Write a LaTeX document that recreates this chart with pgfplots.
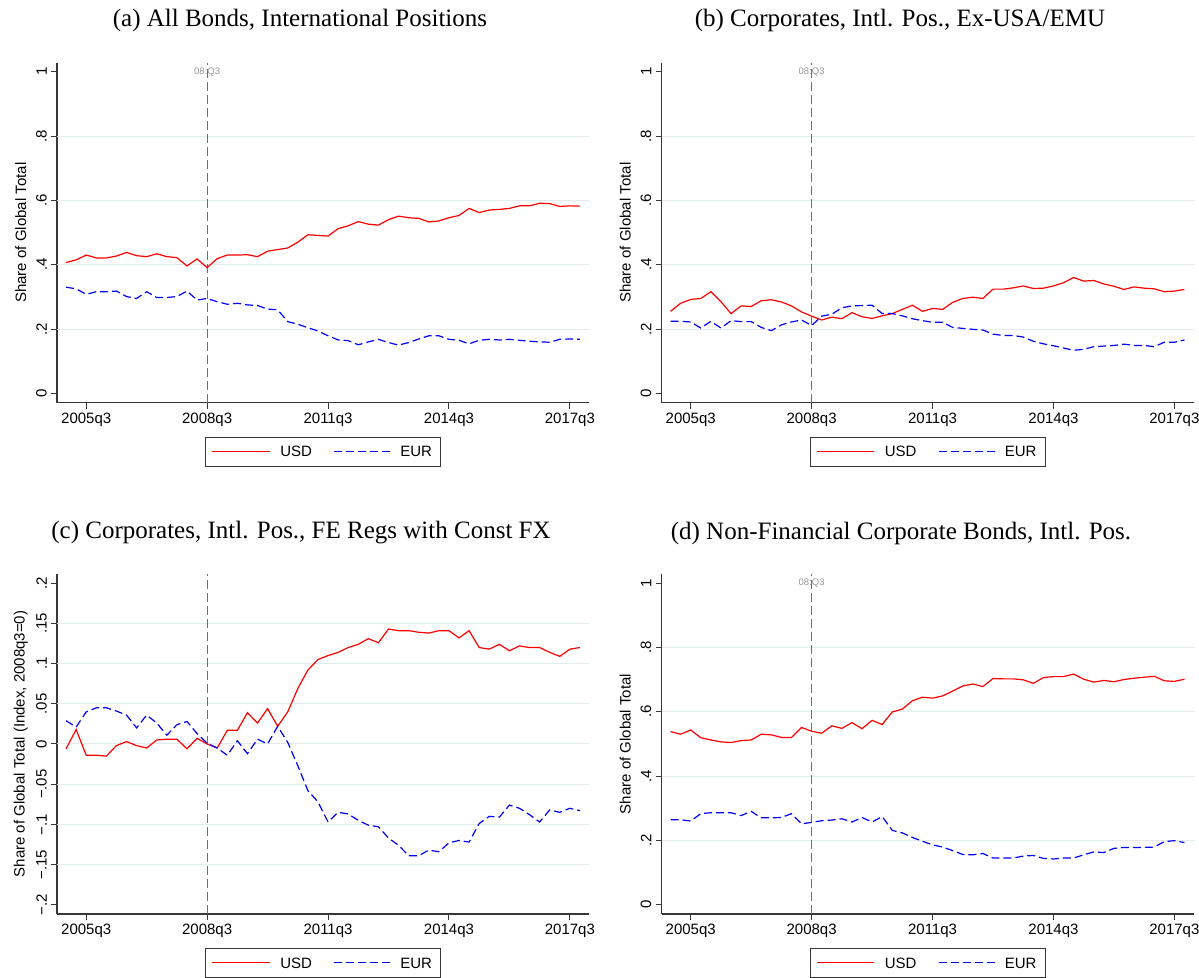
\documentclass[border=0pt]{standalone}
\usepackage{fontspec}
\setmainfont{Liberation Serif}
\setsansfont{Liberation Sans}
\usepackage{pgfplots}
\usepackage{pgfplotstable}
\pgfplotsset{compat=1.18}
\definecolor{gridc}{RGB}{226,235,238}
\definecolor{axc}{RGB}{55,55,55}
\definecolor{vline}{RGB}{110,110,110}
\definecolor{lblc}{RGB}{150,150,150}
\definecolor{usdc}{RGB}{255,0,0}
\definecolor{eurc}{RGB}{0,0,255}

\pgfplotstableread{
x usd eur
-2 0.407 0.330
-1 0.415 0.325
0 0.430 0.308
1 0.421 0.316
2 0.421 0.316
3 0.427 0.318
4 0.438 0.301
5 0.428 0.295
6 0.425 0.316
7 0.434 0.298
8 0.425 0.298
9 0.422 0.301
10 0.396 0.318
11 0.418 0.290
12 0.391 0.295
13 0.419 0.285
14 0.430 0.277
15 0.430 0.280
16 0.431 0.275
17 0.425 0.273
18 0.442 0.262
19 0.447 0.260
20 0.452 0.223
21 0.470 0.215
22 0.493 0.204
23 0.491 0.194
24 0.489 0.179
25 0.512 0.166
26 0.521 0.164
27 0.534 0.151
28 0.526 0.160
29 0.523 0.168
30 0.540 0.158
31 0.551 0.150
32 0.546 0.158
33 0.544 0.169
34 0.533 0.179
35 0.536 0.179
36 0.546 0.168
37 0.553 0.165
38 0.575 0.154
39 0.562 0.165
40 0.570 0.168
41 0.572 0.166
42 0.575 0.168
43 0.583 0.165
44 0.583 0.162
45 0.591 0.160
46 0.590 0.159
47 0.581 0.168
48 0.583 0.169
49 0.582 0.168
}\dataA

\pgfplotstableread{
x usd eur
-2 0.255 0.224
-1 0.280 0.224
0 0.292 0.222
1 0.295 0.203
2 0.316 0.224
3 0.285 0.203
4 0.248 0.226
5 0.272 0.223
6 0.270 0.223
7 0.288 0.205
8 0.291 0.195
9 0.284 0.213
10 0.272 0.222
11 0.253 0.228
12 0.240 0.211
13 0.228 0.240
14 0.237 0.246
15 0.232 0.266
16 0.251 0.272
17 0.238 0.273
18 0.233 0.274
19 0.241 0.248
20 0.248 0.248
21 0.261 0.241
22 0.274 0.232
23 0.255 0.226
24 0.264 0.221
25 0.261 0.221
26 0.283 0.205
27 0.295 0.202
28 0.299 0.199
29 0.295 0.197
30 0.324 0.184
31 0.324 0.180
32 0.328 0.180
33 0.334 0.175
34 0.326 0.162
35 0.327 0.154
36 0.334 0.148
37 0.344 0.141
38 0.360 0.134
39 0.349 0.137
40 0.351 0.145
41 0.340 0.147
42 0.333 0.149
43 0.323 0.153
44 0.331 0.149
45 0.327 0.149
46 0.325 0.145
47 0.316 0.159
48 0.318 0.159
49 0.323 0.166
}\dataB

\pgfplotstableread{
x usd eur
-2 -0.006 0.029
-1 0.018 0.021
0 -0.014 0.040
1 -0.014 0.045
2 -0.015 0.045
3 -0.002 0.041
4 0.003 0.036
5 -0.002 0.020
6 -0.005 0.036
7 0.005 0.026
8 0.006 0.011
9 0.006 0.024
10 -0.006 0.028
11 0.007 0.013
12 0.000 0.001
13 -0.005 -0.005
14 0.017 -0.014
15 0.017 0.004
16 0.039 -0.012
17 0.026 0.006
18 0.044 0.000
19 0.022 0.022
20 0.040 0.002
21 0.069 -0.027
22 0.092 -0.058
23 0.105 -0.072
24 0.110 -0.097
25 0.114 -0.085
26 0.120 -0.087
27 0.124 -0.095
28 0.131 -0.101
29 0.126 -0.103
30 0.143 -0.117
31 0.141 -0.126
32 0.141 -0.139
33 0.139 -0.139
34 0.138 -0.132
35 0.141 -0.134
36 0.141 -0.123
37 0.132 -0.120
38 0.141 -0.122
39 0.120 -0.099
40 0.118 -0.090
41 0.124 -0.091
42 0.116 -0.076
43 0.122 -0.080
44 0.120 -0.088
45 0.120 -0.097
46 0.114 -0.082
47 0.109 -0.085
48 0.118 -0.080
49 0.120 -0.083
}\dataC

\pgfplotstableread{
x usd eur
-2 0.538 0.264
-1 0.530 0.264
0 0.543 0.260
1 0.519 0.283
2 0.512 0.286
3 0.506 0.286
4 0.504 0.286
5 0.510 0.277
6 0.512 0.290
7 0.530 0.270
8 0.528 0.270
9 0.520 0.271
10 0.520 0.283
11 0.551 0.251
12 0.539 0.256
13 0.533 0.261
14 0.556 0.263
15 0.548 0.267
16 0.566 0.257
17 0.547 0.271
18 0.573 0.257
19 0.560 0.274
20 0.599 0.231
21 0.608 0.223
22 0.634 0.209
23 0.645 0.197
24 0.642 0.186
25 0.649 0.179
26 0.664 0.168
27 0.680 0.156
28 0.686 0.155
29 0.678 0.159
30 0.703 0.145
31 0.702 0.145
32 0.702 0.145
33 0.699 0.151
34 0.688 0.153
35 0.706 0.144
36 0.709 0.142
37 0.709 0.145
38 0.717 0.145
39 0.701 0.155
40 0.692 0.164
41 0.697 0.162
42 0.693 0.175
43 0.700 0.178
44 0.704 0.178
45 0.707 0.178
46 0.710 0.179
47 0.696 0.196
48 0.694 0.199
49 0.701 0.193
}\dataD

\newcommand{\axfont}{\sffamily\fontsize{15}{18}\selectfont}

\pgfplotsset{
  stata/.style={
    scale only axis, width=532pt, height=340pt, clip=false,
    axis x line*=bottom, axis y line*=left,
    axis line style={axc, line width=1.2pt, -},
    tick style={axc, line width=1pt},
    tick align=outside, major tick length=6pt,
    xmin=-2.9, xmax=49.9,
    xtick={0,12,24,36,48},
    xticklabels={2005q3,2008q3,2011q3,2014q3,2017q3},
    ticklabel style={font=\axfont},
    yticklabel style={rotate=90, anchor=south, inner sep=4pt},
    xticklabel style={inner sep=4pt},
    ylabel style={font=\axfont, at={(axis description cs:-0.068,0.5)}, anchor=center},
    extra y tick labels={},
    extra y tick style={grid=major, major grid style={gridc, line width=1pt}, major tick length=0pt},
  },
  usd/.style={color=usdc, line width=1.2pt},
  eur/.style={color=eurc, line width=1.2pt, dash pattern=on 8pt off 4pt},
  vl/.style={vline, line width=0.8pt, dash pattern=on 9pt off 4pt, forget plot},
  share/.style={
    ymin=-0.029, ymax=1.028,
    ytick={0,0.2,0.4,0.6,0.8,1},
    yticklabels={0,.2,.4,.6,.8,1},
    extra y ticks={0.2,0.4,0.6,0.8},
    ylabel={Share of Global Total},
  },
}
% legend box and labels (samples are drawn with \addplot below)
\newcommand{\legendbox}{%
 \node[draw=axc, line width=0.9pt, anchor=north, minimum width=235pt,
   minimum height=29pt, inner sep=0pt] (lg) at (axis description cs:0.5,-0.1) {};
 \node[anchor=west, font=\axfont, inner sep=0pt] at ([xshift=75pt]lg.west) {USD};
 \node[anchor=west, font=\axfont, inner sep=0pt] at ([xshift=195pt]lg.west) {EUR};
}

\begin{document}
\begin{tikzpicture}
% (a)
\begin{axis}[stata, share, at={(57pt,574.3pt)}, anchor=south west]
\addplot[vl] coordinates {(12,-0.029) (12,1.028)};
\addplot[usd] table[x=x,y=usd] {\dataA};
\addplot[eur] table[x=x,y=eur] {\dataA};
\addplot[usd] coordinates {(12.53,-0.1798) (18.19,-0.1798)};
\addplot[eur] coordinates {(24.64,-0.1798) (30.40,-0.1798)};
\node[font=\sffamily\fontsize{9.5}{11}\selectfont, text=lblc] at (axis cs:12,1.0) {08:Q3};
\legendbox
\end{axis}
% (b)
\begin{axis}[stata, share, at={(661.5pt,574.3pt)}, anchor=south west]
\addplot[vl] coordinates {(12,-0.029) (12,1.028)};
\addplot[usd] table[x=x,y=usd] {\dataB};
\addplot[eur] table[x=x,y=eur] {\dataB};
\addplot[usd] coordinates {(12.53,-0.1798) (18.19,-0.1798)};
\addplot[eur] coordinates {(24.64,-0.1798) (30.40,-0.1798)};
\node[font=\sffamily\fontsize{9.5}{11}\selectfont, text=lblc] at (axis cs:12,1.0) {08:Q3};
\legendbox
\end{axis}
% (c)
\begin{axis}[stata, at={(57pt,63pt)}, anchor=south west,
  ymin=-0.2115, ymax=0.2115,
  ytick={-0.2,-0.15,-0.1,-0.05,0,0.05,0.1,0.15,0.2},
  yticklabels={−.2,−.15,−.1,−.05,0,.05,.1,.15,.2},
  extra y ticks={-0.15,-0.1,-0.05,0,0.05,0.1,0.15},
  ylabel={Share of Global Total (Index, 2008q3=0)}]
\addplot[vl] coordinates {(12,-0.2115) (12,0.2115)};
\addplot[usd] table[x=x,y=usd] {\dataC};
\addplot[eur] table[x=x,y=eur] {\dataC};
\addplot[usd] coordinates {(12.53,-0.2718) (18.19,-0.2718)};
\addplot[eur] coordinates {(24.64,-0.2718) (30.40,-0.2718)};
\legendbox
\end{axis}
% (d)
\begin{axis}[stata, share, at={(661.5pt,63pt)}, anchor=south west]
\addplot[vl] coordinates {(12,-0.029) (12,1.028)};
\addplot[usd] table[x=x,y=usd] {\dataD};
\addplot[eur] table[x=x,y=eur] {\dataD};
\addplot[usd] coordinates {(12.53,-0.1798) (18.19,-0.1798)};
\addplot[eur] coordinates {(24.64,-0.1798) (30.40,-0.1798)};
\node[font=\sffamily\fontsize{9.5}{11}\selectfont, text=lblc] at (axis cs:12,1.0) {08:Q3};
\legendbox
\end{axis}
% titles
\node[font=\fontsize{25}{30}\selectfont] at (300pt,957pt) {(a) All Bonds, International Positions};
\node[font=\fontsize{25}{30}\selectfont] at (900pt,957pt) {(b) Corporates, Intl. Pos., Ex-USA/EMU};
\node[font=\fontsize{25}{30}\selectfont] at (301pt,444pt) {(c) Corporates, Intl. Pos., FE Regs with Const FX};
\node[font=\fontsize{25}{30}\selectfont] at (901pt,444pt) {(d) Non-Financial Corporate Bonds, Intl. Pos.};
\pgfresetboundingbox
\useasboundingbox (0pt,0pt) rectangle (1199pt,977pt);
\end{tikzpicture}
\end{document}
